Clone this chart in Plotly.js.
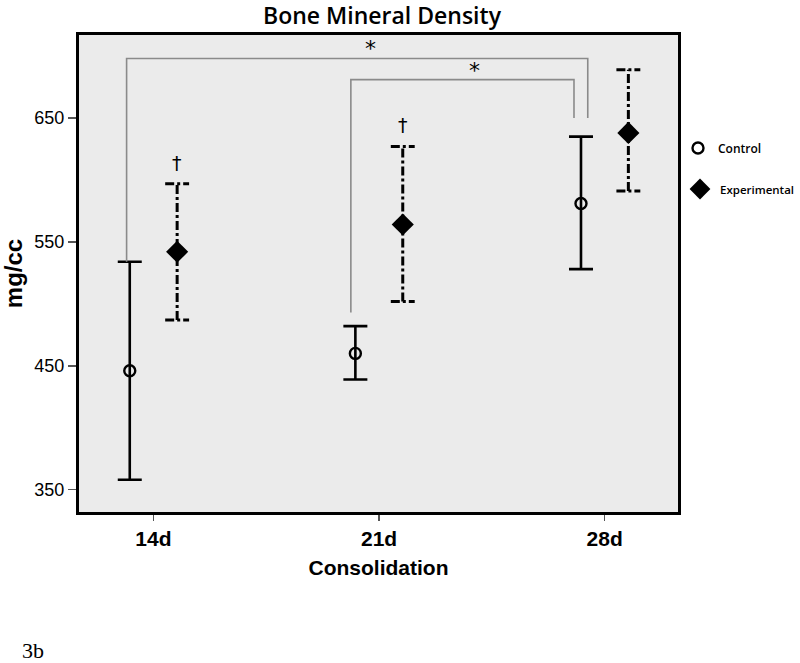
<!DOCTYPE html>
<html>
<head>
<meta charset="utf-8">
<script src="https://cdn.plot.ly/plotly-3.0.1.min.js"></script>
<style>
  body { margin: 0; background: #fff; }
  #chart { width: 800px; height: 663px; }
</style>
</head>
<body>
<div id="chart"></div>
<script>
// Bone mineral density by consolidation time
const days = ['14d', '21d', '28d'];
const controlMean = [446, 460, 581];
const controlUpper = [534, 482, 635];
const controlLower = [358, 439, 528];
const expMean = [542, 564, 638];
const expUpper = [597, 627, 689];
const expLower = [487, 502, 591];

// significance brackets: [leftX, rightX, topY, leftLegY, rightLegY]
const brackets = [
    [-0.119, 1.925, 698, 534, 650],
    [0.875, 1.864, 681, 493, 650]
];
const starPos = [[0.963, 706], [1.424, 688]];
const daggerIdx = [0, 1];

const offset = 0.105;
const capW = 0.053;
const idx = days.map((d, i) => i);
const xCtrl = idx.map(i => i - offset);
const xExp = idx.map(i => i + offset);

// experimental error bars drawn as dash-dot lines
const ebX = [], ebY = [];
idx.forEach(i => {
    const x = xExp[i];
    ebX.push(x, x, null, x - capW, x + capW, null, x - capW, x + capW, null);
    ebY.push(expLower[i], expUpper[i], null, expUpper[i], expUpper[i], null, expLower[i], expLower[i], null);
});

const traces = [
    {
        x: ebX, y: ebY, mode: 'lines', type: 'scatter',
        line: { color: '#000', width: 3, dash: 'dashdot' },
        showlegend: false, hoverinfo: 'skip'
    },
    {
        x: xCtrl, y: controlMean, mode: 'markers', type: 'scatter', name: 'Control',
        marker: { symbol: 'circle-open', size: 11, color: '#000', line: { width: 2.4, color: '#000' } },
        error_y: {
            type: 'data', symmetric: false,
            array: controlUpper.map((v, i) => v - controlMean[i]),
            arrayminus: controlMean.map((v, i) => v - controlLower[i]),
            color: '#000', thickness: 2.6, width: 12
        },
        legend: 'legend'
    },
    {
        x: xExp, y: expMean, mode: 'markers', type: 'scatter', name: 'Experimental',
        marker: { symbol: 'diamond', size: 17, color: '#000' },
        legend: 'legend2'
    }
];

const shapes = brackets.map(b => ({
    type: 'path', xref: 'x', yref: 'y',
    path: 'M ' + b[0] + ',' + b[3] + ' L ' + b[0] + ',' + b[2] + ' L ' + b[1] + ',' + b[2] + ' L ' + b[1] + ',' + b[4],
    line: { color: '#8a8a8a', width: 1.6 }
}));

const annotations = [];
starPos.forEach(p => annotations.push({
    x: p[0], y: p[1], xref: 'x', yref: 'y', text: '*', showarrow: false,
    font: { family: 'DejaVu Sans, sans-serif', size: 22, color: '#000' }
}));
daggerIdx.forEach(i => annotations.push({
    x: xExp[i], y: expUpper[i] + 17, xref: 'x', yref: 'y', text: '†', showarrow: false,
    font: { family: 'DejaVu Sans, sans-serif', size: 19, color: '#000' }
}));
// figure label, bottom-left
annotations.push({
    x: (20 - 79) / 604, y: (512 - 651) / 477, xref: 'paper', yref: 'paper', text: '3b', showarrow: false,
    xanchor: 'left', yanchor: 'middle',
    font: { family: 'Liberation Serif, serif', size: 22, color: '#000' }
});

const legendFont = { family: 'Open Sans, sans-serif', size: 12, weight: 600, color: '#000' };

const layout = {
    width: 800, height: 663,
    margin: { l: 79, r: 117, t: 35, b: 151 },
    paper_bgcolor: '#ffffff',
    plot_bgcolor: '#ebebeb',
    title: {
        text: 'Bone Mineral Density',
        font: { family: 'Open Sans, sans-serif', size: 23, weight: 600, color: '#000' },
        x: 382 / 800, xref: 'container', y: 1 - 16 / 663, yref: 'container', yanchor: 'middle'
    },
    xaxis: {
        range: [-0.33, 2.325],
        tickvals: idx, ticktext: days,
        ticks: 'outside', ticklen: 6, tickwidth: 1.5, tickcolor: '#555',
        showgrid: false, zeroline: false,
        showline: true, linecolor: '#000', linewidth: 3, mirror: true,
        tickfont: { family: 'Liberation Sans, Arial, sans-serif', size: 21, weight: 'bold', color: '#000' },
        title: {
            text: 'Consolidation', standoff: 12,
            font: { family: 'Liberation Sans, Arial, sans-serif', size: 21, weight: 'bold', color: '#000' }
        }
    },
    yaxis: {
        range: [332, 717],
        tickvals: [350, 450, 550, 650],
        ticks: 'outside', ticklen: 8, tickwidth: 1.5, tickcolor: '#555',
        showgrid: false, zeroline: false,
        showline: true, linecolor: '#000', linewidth: 3, mirror: true,
        tickfont: { family: 'Liberation Sans, Arial, sans-serif', size: 18, color: '#000' },
        title: {
            text: 'mg/cc', standoff: 10,
            font: { family: 'Liberation Sans, Arial, sans-serif', size: 24, weight: 'bold', color: '#000' }
        }
    },
    showlegend: true,
    legend: {
        xref: 'container', yref: 'container',
        x: 678 / 800, y: 1 - 148 / 663, xanchor: 'left', yanchor: 'middle',
        bgcolor: 'rgba(0,0,0,0)', font: legendFont
    },
    legend2: {
        xref: 'container', yref: 'container',
        x: 680 / 800, y: 1 - 189 / 663, xanchor: 'left', yanchor: 'middle',
        bgcolor: 'rgba(0,0,0,0)', font: { family: 'Open Sans, sans-serif', size: 11.5, weight: 600, color: '#000' }
    },
    shapes: shapes,
    annotations: annotations
};

Plotly.newPlot('chart', traces, layout, { displayModeBar: false, staticPlot: true });
</script>
</body>
</html>
